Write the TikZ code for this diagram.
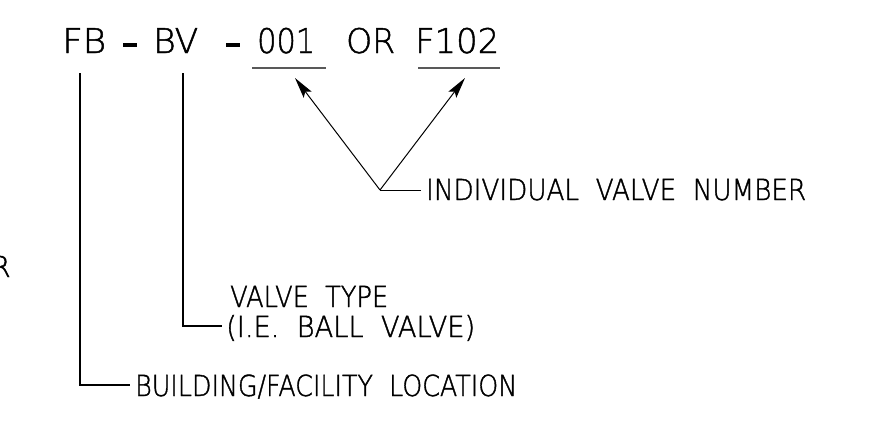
\documentclass[tikz,border=0pt]{standalone}
\usepackage{graphicx}
\usepackage{fontspec}
\setmainfont{DejaVu Sans}
\newfontfamily\cadfont[FakeBold=1.4]{DejaVu Sans ExtraLight}
\usetikzlibrary{arrows.meta}
\newcommand{\fitw}[2]{\resizebox{#1pt}{\height}{#2}}
\begin{document}
\begin{tikzpicture}[x=1pt,y=-1pt,
  toptxt/.style={inner sep=0pt,anchor=base west,font=\cadfont\fontsize{34}{34}\selectfont},
  labtxt/.style={inner sep=0pt,anchor=base west,font=\cadfont\fontsize{29}{29}\selectfont},
  leader/.style={line width=1pt,black},
  bracket/.style={line width=1.6pt,black},
  uline/.style={line width=1.8pt,black!65},
  bar/.style={line width=3.5pt,black},
  pointer/.style={line width=1pt,black,-{Stealth[length=21pt,width=10pt,inset=4pt]}}]
\useasboundingbox (0,0) rectangle (870,434);
\begin{scope}
\clip (0,0) rectangle (870,434);
\node[labtxt,anchor=base east] (cutR) at (11,277) {R};
\end{scope}
% top code
\node[toptxt] (fb) at (62,53) {\fitw{44}{FB}};
\node[toptxt] (bv) at (153,53) {\fitw{45}{BV}};
\node[toptxt] (n001) at (257,53) {\fitw{58}{001}};
\node[toptxt] (or) at (346,53) {\fitw{49}{OR}};
\node[toptxt] (f102) at (415,53) {\fitw{84}{F102}};
\coordinate (d1a) at (123,45); \coordinate (d1b) at (137,45);
\coordinate (d2a) at (226,45); \coordinate (d2b) at (240,45);
\draw[bar] (d1a) -- (d1b);
\draw[bar] (d2a) -- (d2b);
% underlines
\coordinate (u1a) at (252,68); \coordinate (u1b) at (326,68);
\coordinate (u2a) at (418,68); \coordinate (u2b) at (500,68);
\draw[uline] (u1a) -- (u1b);
\draw[uline] (u2a) -- (u2b);
% individual valve number
\node[labtxt] (ivn) at (426,200) {\fitw{380}{INDIVIDUAL\ \ VALVE\ \ NUMBER}};
\coordinate (vtip) at (380,190);
\coordinate (t1) at (295,78);
\coordinate (t2) at (465,78);
\draw[leader] (ivn.west |- vtip) ++(-5,0) -- (vtip);
\draw[pointer] (vtip) -- (t1);
\draw[pointer] (vtip) -- (t2);
% valve type
\node[labtxt] (vt1) at (230,307) {\fitw{158}{VALVE\ \ TYPE}};
\node[labtxt] (vt2) at (226,337) {\fitw{249}{(I.E.\ \ BALL\ \ VALVE)}};
\coordinate (bvtop) at (183,73);
\coordinate (bvbot) at (183,326);
\coordinate (bvend) at (222,326);
\draw[bracket] (bvtop) -- (bvbot) -- (bvend);
% building
\node[labtxt] (bld) at (135,396) {\fitw{382}{BUILDING/FACILITY\ \ LOCATION}};
\coordinate (fbtop) at (80,73);
\coordinate (fbbot) at (80,385);
\coordinate (fbend) at (130,385);
\draw[bracket] (fbtop) -- (fbbot) -- (fbend);
\end{tikzpicture}
\end{document}
